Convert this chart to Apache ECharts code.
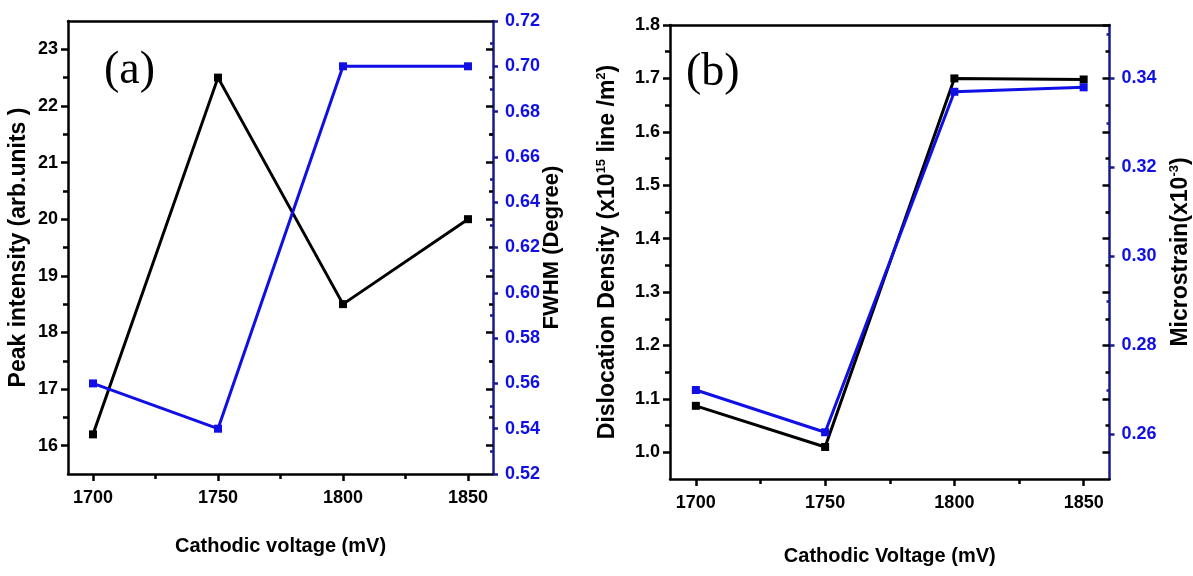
<!DOCTYPE html>
<html>
<head>
<meta charset="utf-8">
<style>
  html, body { margin: 0; padding: 0; background: #fff; }
  #chart { width: 1193px; height: 576px; }
</style>
<script src="https://cdn.jsdelivr.net/npm/echarts@6/dist/echarts.min.js"></script>
</head>
<body>
<div id="chart"></div>
<script>
// data
const voltage = [1700, 1750, 1800, 1850]
const xMajor = [1700, 1750, 1800, 1850]
const xMinor = [1725, 1775, 1825]

const peakIntensity = [16.2, 22.5, 18.5, 20.0]
const fwhm = [0.56, 0.54, 0.70, 0.70]
const peakTicks = [16, 17, 18, 19, 20, 21, 22, 23]
const peakMinor = [16.5, 17.5, 18.5, 19.5, 20.5, 21.5, 22.5]
const fwhmTicks = [0.52, 0.54, 0.56, 0.58, 0.60, 0.62, 0.64, 0.66, 0.68, 0.70, 0.72]
const fwhmMinor = [0.53, 0.55, 0.57, 0.59, 0.61, 0.63, 0.65, 0.67, 0.69, 0.71]

const dislocation = [1.087, 1.01, 1.70, 1.698]
const microstrain = [0.270, 0.2605, 0.337, 0.338]
const disTicks = [1.0, 1.1, 1.2, 1.3, 1.4, 1.5, 1.6, 1.7, 1.8]
const disMinor = [1.05, 1.15, 1.25, 1.35, 1.45, 1.55, 1.65, 1.75]
const strainTicks = [0.26, 0.28, 0.30, 0.32, 0.34]
const strainMinor = [0.27, 0.29, 0.31, 0.33, 0.35]

const BLACK = '#000'
const BLUE = '#0f0fe6'
const NAVY = '#1a1a8c'
const FONT = "'Liberation Sans', Arial, sans-serif"

const chart = echarts.init(document.getElementById('chart'))

// one axis layer: line / ticks / labels switched on as needed
function axis(o) {
  return {
    type: 'value',
    gridIndex: o.grid,
    position: o.pos,
    min: o.min,
    max: o.max,
    name: o.name || '',
    nameLocation: 'middle',
    nameGap: o.nameGap || 0,
    nameRotate: o.nameRotate,
    nameMoveOverlap: false,
    nameTextStyle: {
      fontFamily: FONT, fontWeight: 'bold', fontSize: o.nameSize || 20, color: BLACK,
      rich: o.rich
    },
    axisLine: { show: !!o.line, onZero: false, lineStyle: { color: o.lineColor || BLACK, width: 2.5 } },
    axisTick: {
      show: !!o.ticks,
      customValues: o.ticks,
      inside: !!o.inside,
      length: o.tickLen || 7,
      lineStyle: { color: o.tickColor || BLACK, width: 2.5 }
    },
    axisLabel: {
      show: !!o.labels,
      customValues: o.labels,
      formatter: o.fmt || (v => String(v)),
      margin: o.margin || 10,
      fontFamily: FONT, fontWeight: 'bold', fontSize: 18,
      color: o.labelColor || BLACK
    },
    splitLine: { show: false }
  }
}

const fmt2 = v => v.toFixed(2)
const fmt1 = v => v.toFixed(1)
const richName = {
  t: { fontFamily: FONT, fontWeight: 'bold', fontSize: 23, color: BLACK, lineHeight: 26 },
  s: { fontFamily: FONT, fontWeight: 'bold', fontSize: 13, color: BLACK, verticalAlign: 'top', lineHeight: 26 }
}

const xAxes = [
  // panel (a)
  axis({ grid: 0, pos: 'bottom', min: 1690, max: 1860, line: true, ticks: xMajor, labels: xMajor, margin: 15,
         name: 'Cathodic voltage (mV)', nameGap: 62 }),
  axis({ grid: 0, pos: 'bottom', min: 1690, max: 1860, ticks: xMinor, tickLen: 5 }),
  axis({ grid: 0, pos: 'top', min: 1690, max: 1860, line: true }),
  // panel (b)
  axis({ grid: 1, pos: 'bottom', min: 1690, max: 1860, line: true, ticks: xMajor, labels: xMajor, margin: 15,
         name: 'Cathodic Voltage (mV)', nameGap: 67 }),
  axis({ grid: 1, pos: 'bottom', min: 1690, max: 1860, ticks: xMinor, tickLen: 5 }),
  axis({ grid: 1, pos: 'top', min: 1690, max: 1860, line: true })
]

const yAxes = [
  // panel (a)
  axis({ grid: 0, pos: 'left', min: 15.5, max: 23.5, line: true, ticks: peakTicks, labels: peakTicks,
         name: 'Peak intensity (arb.units )', nameGap: 38, nameRotate: 90, nameSize: 23 }),
  axis({ grid: 0, pos: 'left', min: 15.5, max: 23.5, ticks: peakMinor, tickLen: 5 }),
  axis({ grid: 0, pos: 'right', min: 0.52, max: 0.72, line: true, lineColor: NAVY, margin: 12,
         ticks: fwhmTicks, labels: fwhmTicks, fmt: fmt2, tickLen: 5, tickColor: NAVY, labelColor: BLUE,
         name: 'FWHM (Degree)', nameGap: 48, nameRotate: 90, nameSize: 22 }),
  axis({ grid: 0, pos: 'right', min: 0.52, max: 0.72, ticks: fwhmMinor, inside: true, tickLen: 3, tickColor: NAVY }),
  axis({ grid: 0, pos: 'right', min: 15.5, max: 23.5, ticks: peakTicks, inside: true, tickLen: 7 }),
  axis({ grid: 0, pos: 'right', min: 15.5, max: 23.5, ticks: peakMinor, inside: true, tickLen: 4 }),
  // panel (b)
  axis({ grid: 1, pos: 'left', min: 0.95, max: 1.8, line: true, ticks: disTicks, labels: disTicks, fmt: fmt1,
         name: '{t|Dislocation Density (x10}{s|15}{t| line /m}{s|2}{t|)}', nameGap: 49, nameRotate: 90,
         rich: richName }),
  axis({ grid: 1, pos: 'left', min: 0.95, max: 1.8, ticks: disMinor, tickLen: 5 }),
  axis({ grid: 1, pos: 'right', min: 0.25, max: 0.352, line: true, lineColor: NAVY, margin: 12,
         ticks: strainTicks, labels: strainTicks, fmt: fmt2, tickLen: 5, tickColor: NAVY, labelColor: BLUE,
         name: '{t|Microstrain(x10}{s|-3}{t|)}', nameGap: 58, nameRotate: 90,
         rich: richName }),
  axis({ grid: 1, pos: 'right', min: 0.25, max: 0.352, ticks: strainMinor, inside: true, tickLen: 3, tickColor: NAVY }),
  axis({ grid: 1, pos: 'right', min: 0.95, max: 1.8, ticks: disTicks, inside: true, tickLen: 7 }),
  axis({ grid: 1, pos: 'right', min: 0.95, max: 1.8, ticks: disMinor, inside: true, tickLen: 4 })
]

function lineSeries(xi, yi, ys, color) {
  return {
    type: 'line',
    xAxisIndex: xi,
    yAxisIndex: yi,
    data: voltage.map((v, i) => [v, ys[i]]),
    symbol: 'rect',
    symbolSize: 8,
    lineStyle: { color: color, width: 3 },
    itemStyle: { color: color },
    animation: false
  }
}

chart.setOption({
  backgroundColor: '#fff',
  animation: false,
  grid: [
    { left: 68, right: 700, top: 21, bottom: 102 },
    { left: 670, right: 83, top: 25, bottom: 97 }
  ],
  xAxis: xAxes,
  yAxis: yAxes,
  graphic: [
    { type: 'text', left: 104, top: 48,
      style: { text: '(a)', fontFamily: "'Liberation Serif', 'Times New Roman', serif", fontSize: 46, fill: BLACK } },
    { type: 'text', left: 686, top: 50,
      style: { text: '(b)', fontFamily: "'Liberation Serif', 'Times New Roman', serif", fontSize: 46, fill: BLACK } }
  ],
  series: [
    lineSeries(0, 0, peakIntensity, BLACK),
    lineSeries(0, 2, fwhm, BLUE),
    lineSeries(3, 6, dislocation, BLACK),
    lineSeries(3, 8, microstrain, BLUE)
  ]
})
</script>
</body>
</html>
